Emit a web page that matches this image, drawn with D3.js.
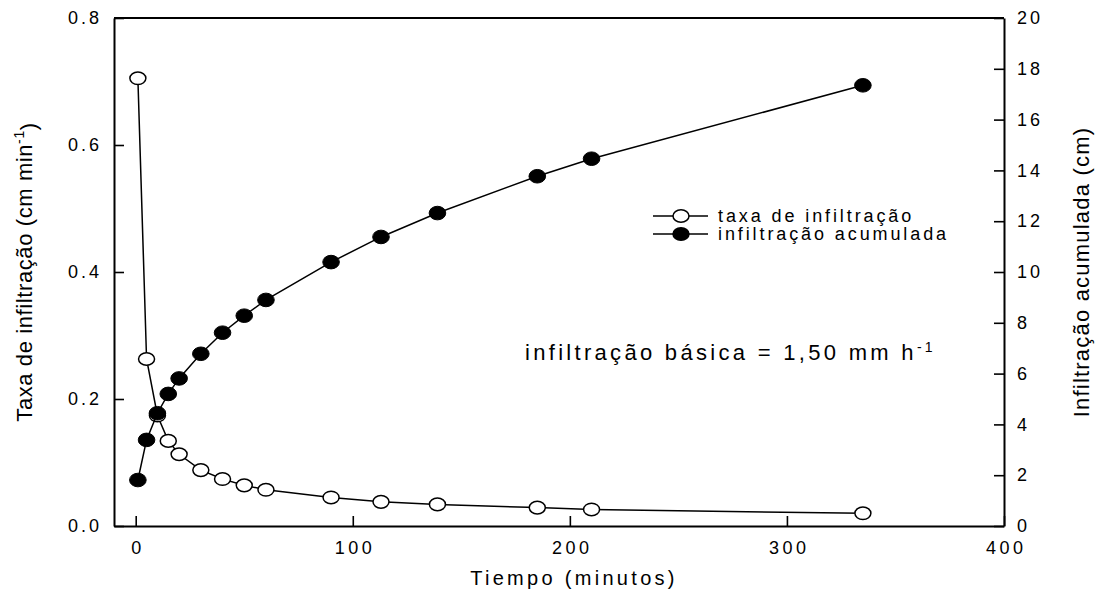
<!DOCTYPE html>
<html>
<head>
<meta charset="utf-8">
<script src="https://cdn.jsdelivr.net/npm/d3@7"></script>
<style>
  html, body { margin: 0; padding: 0; background: #fff; }
  svg { display: block; font-family: "Liberation Sans", Arial, sans-serif; }
</style>
</head>
<body>
<svg id="chart" width="1099" height="606"></svg>
<script>
// Infiltration test: elapsed time (min)
const tempo = [1, 5, 10, 15, 20, 30, 40, 50, 60, 90, 113, 139, 185, 210, 335];
// Infiltration rate (cm min-1) — left axis
const taxa = [0.705, 0.263, 0.174, 0.134, 0.113, 0.088, 0.074, 0.064, 0.057, 0.045, 0.038, 0.034, 0.029, 0.026, 0.020];
// Cumulative infiltration (cm) — right axis
const acumulada = [1.81, 3.39, 4.44, 5.20, 5.81, 6.78, 7.61, 8.28, 8.90, 10.39, 11.38, 12.32, 13.77, 14.46, 17.35];

const xTicks = [0, 100, 200, 300, 400];
const yLeftTicks = [0, 0.2, 0.4, 0.6, 0.8];
const yRightTicks = [0, 2, 4, 6, 8, 10, 12, 14, 16, 18, 20];

const plot = { left: 114, right: 1004, top: 18, bottom: 526 };
const svg = d3.select("#chart");

const x = d3.scaleLinear().domain([-10, 400]).range([plot.left, plot.right]);
const yL = d3.scaleLinear().domain([0, 0.8]).range([plot.bottom, plot.top]);
const yR = d3.scaleLinear().domain([0, 20]).range([plot.bottom, plot.top]);

function styleAxis(g, spacing) {
  g.select(".domain").attr("stroke", "#000").attr("stroke-width", 2);
  g.selectAll(".tick line").attr("stroke", "#000").attr("stroke-width", 1.6);
  g.selectAll(".tick text")
    .attr("fill", "#000")
    .style("font-size", "18px")
    .style("letter-spacing", spacing + "px");
}

// Bottom axis (ticks point inward)
svg.append("g")
  .attr("transform", `translate(0,${plot.bottom})`)
  .call(d3.axisBottom(x).tickValues(xTicks).tickSizeInner(-10).tickSizeOuter(0).tickPadding(15)
    .tickFormat(d3.format("d")))
  .call(g => styleAxis(g, 3.5))
  .call(g => g.selectAll(".tick text").attr("dx", "0.1em"));

// Left axis
svg.append("g")
  .attr("transform", `translate(${plot.left},0)`)
  .call(d3.axisLeft(yL).tickValues(yLeftTicks).tickSizeInner(-10).tickSizeOuter(0).tickPadding(12)
    .tickFormat(d3.format(".1f")))
  .call(g => styleAxis(g, 3));

// Right axis
svg.append("g")
  .attr("transform", `translate(${plot.right},0)`)
  .call(d3.axisRight(yR).tickValues(yRightTicks).tickSizeInner(-10).tickSizeOuter(0).tickPadding(13)
    .tickFormat(d3.format("d")))
  .call(g => styleAxis(g, 3));

// Top frame line
svg.append("line")
  .attr("x1", plot.left).attr("x2", plot.right)
  .attr("y1", plot.top).attr("y2", plot.top)
  .attr("stroke", "#000").attr("stroke-width", 2);

// Series
const pts = tempo.map((t, i) => ({ t, taxa: taxa[i], acum: acumulada[i] }));

const lineTaxa = d3.line().x(d => x(d.t)).y(d => yL(d.taxa));
const lineAcum = d3.line().x(d => x(d.t)).y(d => yR(d.acum));

svg.append("path").datum(pts).attr("d", lineTaxa)
  .attr("fill", "none").attr("stroke", "#000").attr("stroke-width", 1.5);
svg.append("g").selectAll("ellipse").data(pts).join("ellipse")
  .attr("cx", d => x(d.t)).attr("cy", d => yL(d.taxa))
  .attr("rx", 8).attr("ry", 6.3)
  .attr("fill", "#fff").attr("stroke", "#000").attr("stroke-width", 1.5);

svg.append("path").datum(pts).attr("d", lineAcum)
  .attr("fill", "none").attr("stroke", "#000").attr("stroke-width", 1.5);
svg.append("g").selectAll("ellipse").data(pts).join("ellipse")
  .attr("cx", d => x(d.t)).attr("cy", d => yR(d.acum))
  .attr("rx", 8.3).attr("ry", 6.8)
  .attr("fill", "#000").attr("stroke", "#000").attr("stroke-width", 1);

// Axis titles
const leftTitle = svg.append("text")
  .attr("transform", `translate(32,${(plot.top + plot.bottom) / 2}) rotate(-90)`)
  .attr("text-anchor", "middle")
  .style("font-size", "22px").style("letter-spacing", "0.6px");
leftTitle.append("tspan").text("Taxa de infiltração (cm min");
leftTitle.append("tspan").attr("dy", "-0.55em").style("font-size", "14px").text("-1");
leftTitle.append("tspan").attr("dy", "0.55em").text(")");

svg.append("text")
  .attr("transform", `translate(1089,${(plot.top + plot.bottom) / 2}) rotate(-90)`)
  .attr("text-anchor", "middle")
  .style("font-size", "22px").style("letter-spacing", "1.2px")
  .text("Infiltração acumulada (cm)");

svg.append("text")
  .attr("x", 574).attr("y", 585)
  .attr("text-anchor", "middle")
  .style("font-size", "20px").style("letter-spacing", "3.3px")
  .text("Tiempo (minutos)");

// Legend
const legend = [
  { label: "taxa de infiltração", fill: "#fff", y: 216 },
  { label: "infiltração acumulada", fill: "#000", y: 234 }
];
const lg = svg.append("g");
legend.forEach(d => {
  lg.append("line").attr("x1", 653).attr("x2", 708).attr("y1", d.y).attr("y2", d.y)
    .attr("stroke", "#000").attr("stroke-width", 1.5);
  lg.append("ellipse").attr("cx", 681).attr("cy", d.y).attr("rx", 8).attr("ry", 6.3)
    .attr("fill", d.fill).attr("stroke", "#000").attr("stroke-width", 1.5);
  lg.append("text").attr("x", 718).attr("y", d.y + 6)
    .style("font-size", "18px").style("letter-spacing", "2.9px")
    .text(d.label);
});

// Basic infiltration annotation
const note = svg.append("text")
  .attr("x", 525).attr("y", 360)
  .style("font-size", "22px").style("letter-spacing", "3.3px");
note.append("tspan").text("infiltração básica = 1,50 mm h");
note.append("tspan").attr("dy", "-0.6em").style("font-size", "14px").text("-1");
</script>
</body>
</html>
